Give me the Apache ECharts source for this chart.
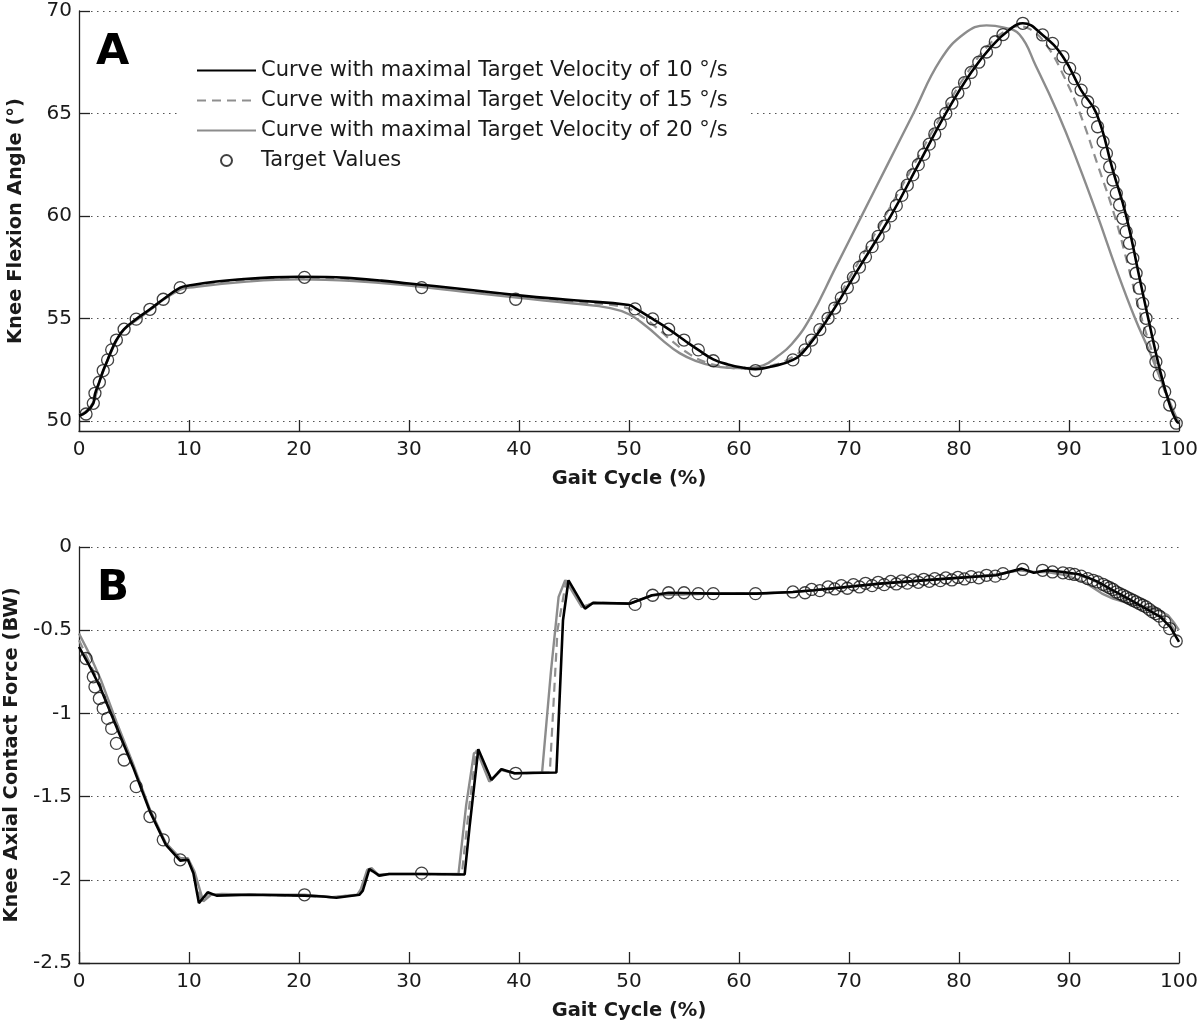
<!DOCTYPE html>
<html>
<head>
<meta charset="utf-8">
<script src="https://cdn.jsdelivr.net/npm/echarts@6/dist/echarts.min.js"></script>
<style>
html,body{margin:0;padding:0;background:#fff;}
#c{width:1200px;height:1027px;}
</style>
</head>
<body>
<div id="c"></div>
<script>
// ---------- axis ticks ----------
const gaitTicks = [0, 10, 20, 30, 40, 50, 60, 70, 80, 90, 100];
const kneeTicks = [50, 55, 60, 65, 70];
const forceTicks = [-2.5, -2, -1.5, -1, -0.5, 0];

const seriesNames = [
  'Curve with maximal Target Velocity of 10 °/s',
  'Curve with maximal Target Velocity of 15 °/s',
  'Curve with maximal Target Velocity of 20 °/s',
  'Target Values'
];

// ---------- Target values (shared gait-cycle positions) ----------
const targetX = [0.64, 1.3, 1.45, 1.85, 2.2, 2.6, 2.97, 3.4, 4.1, 5.2, 6.45, 7.66, 9.2,
  20.5, 31.15, 39.7, 50.55, 52.15, 53.6, 55.0, 56.3, 57.66, 61.5, 64.9,
  66.0, 66.6, 67.35, 68.1, 68.7, 69.3, 69.85, 70.4, 70.95, 71.5, 72.1, 72.65, 73.2, 73.8, 74.3, 74.8,
  75.3, 75.8, 76.3, 76.8, 77.3, 77.8, 78.3, 78.8, 79.35, 79.9, 80.5, 81.1, 81.8, 82.5, 83.3, 84.0, 85.8,
  87.6, 88.5, 89.45, 90.06, 90.5, 91.1, 91.7, 92.2, 92.6, 93.1, 93.4, 93.7, 94.0, 94.3, 94.6, 94.9,
  95.2, 95.5, 95.8, 96.1, 96.4, 96.7, 97.0, 97.3, 97.6, 97.9, 98.2, 98.7, 99.15, 99.75];
const targetKnee = [50.33, 50.85, 51.34, 51.88, 52.45, 52.97, 53.46, 53.94, 54.47, 54.96, 55.44, 55.93, 56.5,
  57.0, 56.5, 55.93, 55.46, 54.97, 54.47, 53.94, 53.46, 52.93, 52.45, 52.97,
  53.46, 53.94, 54.45, 55.0, 55.5, 56.0, 56.5, 57.0, 57.5, 58.0, 58.5, 59.0, 59.5, 60.0, 60.5, 61.0,
  61.5, 62.0, 62.5, 63.0, 63.5, 64.0, 64.5, 65.0, 65.5, 66.0, 66.5, 67.0, 67.5, 68.0, 68.5, 68.85, 69.4,
  68.83, 68.42, 67.77, 67.2, 66.7, 66.14, 65.57, 65.09, 64.35, 63.62, 63.05, 62.4, 61.75, 61.1, 60.53, 59.88,
  59.23, 58.66, 57.93, 57.2, 56.47, 55.73, 55.0, 54.35, 53.62, 52.88, 52.24, 51.42, 50.77, 49.88];
const targetForce = [-0.67, -0.78, -0.84, -0.91, -0.97, -1.03, -1.09, -1.18, -1.28, -1.44, -1.62, -1.76, -1.88,
  -2.09, -1.96, -1.36, -0.345, -0.29, -0.275, -0.275, -0.28, -0.28, -0.28, -0.27,
  -0.275, -0.255, -0.262, -0.24, -0.252, -0.232, -0.248, -0.226, -0.24, -0.218, -0.232, -0.212, -0.226, -0.207, -0.222, -0.203,
  -0.217, -0.198, -0.212, -0.194, -0.206, -0.19, -0.202, -0.186, -0.198, -0.183, -0.192, -0.178, -0.185, -0.17, -0.175, -0.16, -0.135,
  -0.14, -0.15, -0.155, -0.16, -0.165, -0.175, -0.19, -0.2, -0.21, -0.225, -0.235, -0.245, -0.255, -0.27, -0.28, -0.29,
  -0.3, -0.31, -0.32, -0.33, -0.34, -0.35, -0.36, -0.375, -0.39, -0.4, -0.415, -0.45, -0.49, -0.565];

// ---------- Panel A: knee flexion angle ----------
const knee10X = [0, 0.6, 1.3, 1.45, 1.85, 2.2, 2.6, 2.97, 3.4, 4.1, 5.2, 6.45, 7.66, 9.2, 10, 12.5, 15, 17.5, 20, 22.5,
  25, 27.5, 30, 35, 40, 45, 50, 50.55, 52.15, 53.6, 55.0, 56.3, 57.66, 59, 60.5, 61.5, 63, 64.9, 66.0, 68.1,
  70.95, 73.8, 76.3, 78.8, 81.1, 83.0, 84.5, 85.8, 87.6, 89.45, 91.1, 92.5, 94.0, 95.2, 96.4, 97.2, 98.3, 99.2, 99.75, 100];
const knee10Y = [50.25, 50.4, 50.85, 51.3, 51.9, 52.45, 52.97, 53.46, 53.94, 54.47, 54.96, 55.44, 55.93, 56.5, 56.6, 56.8, 56.92, 57.0, 57.03, 57.02,
  56.95, 56.84, 56.7, 56.42, 56.12, 55.88, 55.65, 55.5, 54.97, 54.47, 53.94, 53.46, 53.0, 52.75, 52.58, 52.52, 52.65, 52.97, 53.46, 55.0,
  57.5, 60.0, 62.5, 65.0, 67.0, 68.3, 69.05, 69.4, 68.83, 67.77, 66.14, 65.0, 62.2, 60.0, 57.0, 55.0, 52.4, 50.7, 50.0, 49.88];

const knee15X = [0, 0.6, 1.3, 1.85, 2.6, 3.4, 4.1, 5.2, 6.45, 7.66, 9.2, 10, 15, 20, 25, 30, 35, 40, 45, 49.5,
  51, 52.5, 54, 55.5, 57, 58.5, 60, 61.5, 63, 64.5, 66, 67.9, 70.6, 73.5, 76.0, 78.5, 80.9, 82.8, 84.3, 85.3,
  86.5, 88.0, 89.5, 91.0, 92.6, 94.15, 95.4, 96.6, 97.6, 98.6, 99.4, 100];
const knee15Y = [50.3, 50.42, 50.88, 51.9, 52.96, 53.92, 54.46, 54.93, 55.42, 55.92, 56.45, 56.55, 56.85, 56.97, 56.9, 56.65, 56.38, 56.07, 55.8, 55.55,
  55.15, 54.55, 53.85, 53.25, 52.85, 52.65, 52.55, 52.55, 52.7, 53.0, 53.6, 55.0, 57.5, 60.2, 62.6, 65.0, 67.1, 68.4, 69.05, 69.25,
  69.1, 68.3, 66.85, 65.0, 62.5, 60.0, 57.5, 55.0, 53.3, 51.6, 50.5, 49.88];

const knee20X = [0, 0.6, 1.3, 1.85, 2.6, 3.4, 4.1, 5.2, 6.45, 7.66, 9.2, 10, 15, 20, 25, 30, 35, 40, 45, 48.3,
  50, 51.6, 53, 54.6, 56.2, 57.7, 59.2, 60.7, 62.2, 63.4, 64.8, 66.45, 68.8, 71.15, 73.5, 75.85, 78.3, 80.5, 82.5, 84.0,
  85.5, 87.0, 89.0, 90.8, 92.6, 94.3, 96.0, 97.3, 98.5, 99.4, 100];
const knee20Y = [50.3, 50.45, 50.9, 51.9, 52.95, 53.9, 54.45, 54.9, 55.4, 55.9, 56.4, 56.5, 56.78, 56.9, 56.82, 56.6, 56.3, 56.0, 55.72, 55.5,
  55.2, 54.6, 53.95, 53.3, 52.9, 52.67, 52.58, 52.56, 52.7, 53.1, 53.75, 55.0, 57.5, 60.0, 62.5, 65.0, 67.6, 68.9, 69.3, 69.2,
  68.85, 67.3, 65.0, 62.6, 60.0, 57.4, 55.0, 53.4, 51.8, 50.6, 49.88];

// ---------- Panel B: knee axial contact force ----------
const force10X = [0, 1, 1.9, 3.4, 4.9, 6.45, 7.9, 9.2, 9.9, 10.4, 10.9, 11.7, 12.5, 15.5, 20.5, 22.2, 23.4, 25.5, 25.8, 26.4,
  27.3, 28.2, 31.1, 35.06, 35.5, 36.3, 37.5, 38.4, 39.6, 43.4, 44.0, 44.5, 46.0, 46.75, 50.1, 52.1, 53.6, 57.7, 61.6, 64.9,
  66.8, 72.8, 78.9, 83.4, 85.7, 86.8, 88.0, 89.5, 91.0, 92.5, 94.0, 95.5, 97.1, 98.3, 99.2, 100];
const force10Y = [-0.6, -0.72, -0.84, -1.08, -1.32, -1.59, -1.79, -1.885, -1.88, -1.96, -2.14, -2.075, -2.095, -2.09, -2.095, -2.1, -2.108, -2.09, -2.065, -1.935,
  -1.975, -1.965, -1.965, -1.968, -1.685, -1.215, -1.4, -1.335, -1.36, -1.355, -0.44, -0.2, -0.37, -0.335, -0.34, -0.29, -0.275, -0.28, -0.28, -0.27,
  -0.26, -0.22, -0.19, -0.17, -0.13, -0.155, -0.14, -0.15, -0.165, -0.205, -0.26, -0.315, -0.375, -0.42, -0.48, -0.57];

const force15X = [0, 1, 1.9, 3.4, 4.9, 6.45, 7.9, 9.2, 9.9, 10.45, 11.1, 11.8, 12.6, 16, 20.5, 23, 25.4, 25.7, 26.3, 27.2,
  28.2, 31.1, 34.8, 35.4, 36.1, 37.4, 38.4, 39.6, 42.8, 43.5, 44.3, 45.8, 46.7, 50.1, 52.1, 57.7, 61.6, 64.9, 66.8, 72.8,
  78.9, 83.4, 85.6, 86.8, 88.0, 91.0, 92.5, 94.0, 95.5, 97.1, 98.3, 99.2, 100];
const force15Y = [-0.56, -0.7, -0.83, -1.07, -1.31, -1.58, -1.785, -1.88, -1.875, -1.96, -2.13, -2.08, -2.09, -2.09, -2.095, -2.105, -2.09, -2.06, -1.935, -1.975,
  -1.965, -1.965, -1.967, -1.6, -1.22, -1.405, -1.335, -1.36, -1.355, -0.5, -0.2, -0.365, -0.335, -0.34, -0.29, -0.28, -0.28, -0.27, -0.26, -0.22,
  -0.19, -0.168, -0.135, -0.152, -0.143, -0.17, -0.21, -0.27, -0.325, -0.37, -0.41, -0.46, -0.54];

const force20X = [0, 1, 2, 3.4, 4.9, 6.4, 7.9, 9.2, 9.9, 10.5, 11.3, 12.0, 13, 16, 20.5, 23, 25.3, 25.6, 26.2, 26.6,
  27.2, 28.2, 31.1, 34.5, 35.2, 35.9, 36.2, 37.3, 38.4, 39.6, 42.1, 42.9, 43.6, 44.2, 44.6, 45.7, 46.7, 50.1, 52.1, 57.7,
  61.6, 64.9, 66.8, 72.8, 78.9, 83.4, 85.5, 86.8, 88.0, 89.8, 91.6, 93.0, 94.0, 95.5, 97.0, 98.2, 99.0, 99.6, 100];
const force20Y = [-0.52, -0.65, -0.8, -1.05, -1.3, -1.57, -1.78, -1.87, -1.87, -1.95, -2.13, -2.09, -2.085, -2.09, -2.09, -2.105, -2.09, -2.06, -1.94, -1.93,
  -1.97, -1.965, -1.965, -1.965, -1.55, -1.24, -1.23, -1.41, -1.34, -1.36, -1.355, -0.75, -0.3, -0.2, -0.24, -0.36, -0.34, -0.34, -0.29, -0.28,
  -0.28, -0.27, -0.26, -0.22, -0.19, -0.165, -0.14, -0.15, -0.15, -0.17, -0.22, -0.28, -0.31, -0.34, -0.36, -0.38, -0.41, -0.46, -0.5];

// ---------- build ----------
const pairs = (xs, ys) => xs.map((v, i) => [v, ys[i]]);
const FONT = '"DejaVu Sans", Arial, sans-serif';
const TXT = '#1a1a1a';
const BLACK = '#000000';
const GRAY = '#8c8c8c';
const DGRAY = '#8f8f8f';

function xAxisVisible(grid) {
  return {
    type: 'value', gridIndex: grid, min: gaitTicks[0], max: gaitTicks[gaitTicks.length - 1],
    interval: gaitTicks[1] - gaitTicks[0],
    name: 'Gait Cycle (%)', nameLocation: 'middle', nameGap: 38,
    nameTextStyle: {fontFamily: FONT, fontSize: 19.5, fontWeight: 'bold', color: TXT},
    axisLine: {show: true, onZero: false, lineStyle: {color: '#222', width: 1.3}},
    axisTick: {show: true, inside: true, length: 11, lineStyle: {color: '#222', width: 1.3}},
    axisLabel: {fontFamily: FONT, fontSize: 20, color: TXT, margin: 9},
    splitLine: {show: false}
  };
}
const gridDots = {show: true, lineStyle: {color: '#555', width: 1.2, type: [1.5, 4.5]}};

function lineSeries(name, data, xi, yi, color, width, dash, smooth) {
  return {
    name: name, type: 'line', xAxisIndex: xi, yAxisIndex: yi, data: data,
    showSymbol: false, symbol: 'none', smooth: smooth,
    lineStyle: {color: color, width: width, type: dash}, itemStyle: {color: color},
    emphasis: {disabled: true}, animation: false
  };
}
function targetSeries(data, xi, yi) {
  return {
    name: seriesNames[3], type: 'scatter', xAxisIndex: xi, yAxisIndex: yi, data: data,
    symbol: 'circle', symbolSize: 12,
    itemStyle: {color: 'rgba(0,0,0,0)', borderColor: '#111', borderWidth: 1.3},
    emphasis: {disabled: true}, animation: false, z: 5
  };
}
const hiddenSymbol = {color: 'rgba(0,0,0,0)', borderWidth: 0, opacity: 0};
const gridBase = {outerBoundsMode: 'none', containLabel: false};

const option = {
  backgroundColor: '#ffffff',
  animation: false,
  title: [
    {text: 'A', left: 96, top: 31, padding: 0, textStyle: {fontFamily: FONT, fontSize: 43, fontWeight: 'bold', color: '#000'}},
    {text: 'B', left: 97, top: 568, padding: 0, textStyle: {fontFamily: FONT, fontSize: 42, fontWeight: 'bold', color: '#000'}}
  ],
  legend: {
    orient: 'vertical', left: 180, top: 54,
    padding: [6, 22, 6, 16], backgroundColor: '#ffffff',
    itemWidth: 59, itemHeight: 11, itemGap: 9,
    textStyle: {fontFamily: FONT, fontSize: 21, color: TXT},
    data: [
      {name: seriesNames[0], itemStyle: hiddenSymbol},
      {name: seriesNames[1], itemStyle: hiddenSymbol},
      {name: seriesNames[2], itemStyle: hiddenSymbol},
      {name: seriesNames[3], icon: 'circle'}
    ],
    selectedMode: false
  },
  grid: [
    Object.assign({left: 79, top: 11, width: 1100, height: 420}, gridBase),
    Object.assign({left: 79, top: 11, width: 1100, height: 410}, gridBase),
    Object.assign({left: 79, top: 547, width: 1100, height: 416}, gridBase)
  ],
  xAxis: [
    xAxisVisible(0),
    {type: 'value', gridIndex: 1, min: 0, max: 100, show: false},
    xAxisVisible(2)
  ],
  yAxis: [
    {
      type: 'value', gridIndex: 0, min: 49.5, max: kneeTicks[kneeTicks.length - 1],
      name: 'Knee Flexion Angle (°)', nameLocation: 'middle', nameGap: 53, nameRotate: 90,
      nameTextStyle: {fontFamily: FONT, fontSize: 19.5, fontWeight: 'bold', color: TXT},
      axisLine: {show: true, onZero: false, lineStyle: {color: '#222', width: 1.3}},
      axisTick: {show: false}, axisLabel: {show: false}, splitLine: {show: false}
    },
    {
      type: 'value', gridIndex: 1, min: kneeTicks[0], max: kneeTicks[kneeTicks.length - 1],
      interval: kneeTicks[1] - kneeTicks[0],
      axisLine: {show: false},
      axisTick: {show: true, inside: true, length: 11, lineStyle: {color: '#222', width: 1.3}},
      axisLabel: {fontFamily: FONT, fontSize: 20, color: TXT, margin: 7},
      splitLine: gridDots
    },
    {
      type: 'value', gridIndex: 2, min: forceTicks[0], max: forceTicks[forceTicks.length - 1],
      interval: forceTicks[1] - forceTicks[0],
      name: 'Knee Axial Contact Force (BW)', nameLocation: 'middle', nameGap: 53, nameRotate: 90,
      nameTextStyle: {fontFamily: FONT, fontSize: 19.5, fontWeight: 'bold', color: TXT},
      axisLine: {show: true, onZero: false, lineStyle: {color: '#222', width: 1.3}},
      axisTick: {show: true, inside: true, length: 11, lineStyle: {color: '#222', width: 1.3}},
      axisLabel: {fontFamily: FONT, fontSize: 20, color: TXT, margin: 7},
      splitLine: gridDots
    }
  ],
  series: [
    lineSeries(seriesNames[2], pairs(knee20X, knee20Y), 0, 0, GRAY, 2.4, 'solid', 0.45),
    lineSeries(seriesNames[1], pairs(knee15X, knee15Y), 0, 0, DGRAY, 2.2, [9, 6], 0.45),
    lineSeries(seriesNames[0], pairs(knee10X, knee10Y), 0, 0, BLACK, 2.6, 'solid', 0.45),
    targetSeries(pairs(targetX, targetKnee), 0, 0),
    lineSeries(seriesNames[2], pairs(force20X, force20Y), 2, 2, GRAY, 2.4, 'solid', false),
    lineSeries(seriesNames[1], pairs(force15X, force15Y), 2, 2, DGRAY, 2.2, [9, 6], false),
    lineSeries(seriesNames[0], pairs(force10X, force10Y), 2, 2, BLACK, 2.6, 'solid', false),
    targetSeries(pairs(targetX, targetForce), 2, 2)
  ]
};

const chart = echarts.init(document.getElementById('c'), null, {renderer: 'canvas'});
chart.setOption(option);
</script>
</body>
</html>
